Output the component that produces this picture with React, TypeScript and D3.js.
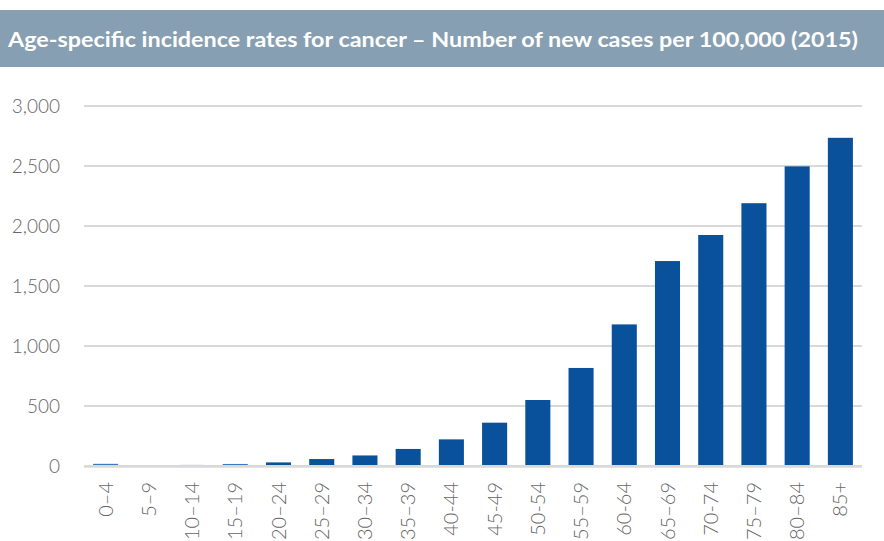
import React from "react";
import * as d3 from "d3";

const categories = ["0–4","5–9","10–14","15–19","20–24","25–29","30–34","35–39","40-44","45-49","50-54","55–59","60-64","65–69","70-74","75–79","80–84","85+"];
const values = [18, 8, 9, 17, 30, 58, 88, 142, 222, 361, 550, 817, 1180, 1708, 1925, 2190, 2497, 2735];
const yTicks = [0, 500, 1000, 1500, 2000, 2500, 3000];
const title = "Age-specific incidence rates for cancer – Number of new cases per 100,000 (2015)";

const W = 884, H = 541;
const left = 84, right = 862, top = 106, bottom = 466;

export default function App() {
  const x = d3.scaleBand<string>().domain(categories).range([left, right]).paddingInner(0.42).paddingOuter(0.21);
  const y = d3.scaleLinear().domain([0, 3000]).range([bottom, top]);
  const fmt = d3.format(",");
  return (
    <svg width={W} height={H} style={{ position: "absolute", left: 0, top: 0, background: "#fff" }}>
      <rect x={0} y={10} width={W} height={57} fill="#879fb2" />
      <text x={8} y={47} fill="#fff" fontFamily="Lato, 'Open Sans', sans-serif" fontWeight={700} fontSize={21} textLength={850} lengthAdjust="spacingAndGlyphs">{title}</text>
      {yTicks.filter(t => t > 0).map(t => (
        <line key={t} x1={left} x2={right} y1={y(t)} y2={y(t)} stroke="#d9d9d9" strokeWidth={2} />
      ))}
      {yTicks.map(t => (
        <text key={t} x={60} y={y(t)} dy="0.35em" textAnchor="end" fill="#666" fontFamily="Lato, sans-serif" fontWeight={300} fontSize={19}>{fmt(t)}</text>
      ))}
      {categories.map((c, i) => (
        <rect key={c} x={x(c)} y={y(values[i])} width={x.bandwidth()} height={bottom - y(values[i])} fill={values[i] < 25 ? "#3a78c2" : "#0a519c"} />
      ))}
      <line x1={left} x2={right} y1={bottom + 0.4} y2={bottom + 0.4} stroke="#d9d9d9" strokeWidth={2.6} />
      {categories.map(c => {
        const cx = x(c)! + x.bandwidth() / 2;
        return (
          <text key={c} transform={`translate(${cx},482) rotate(-90)`} textAnchor="end" dy="0.35em" fill="#666" fontFamily="Lato, sans-serif" fontWeight={300} fontSize={20}>{c}</text>
        );
      })}
    </svg>
  );
}
